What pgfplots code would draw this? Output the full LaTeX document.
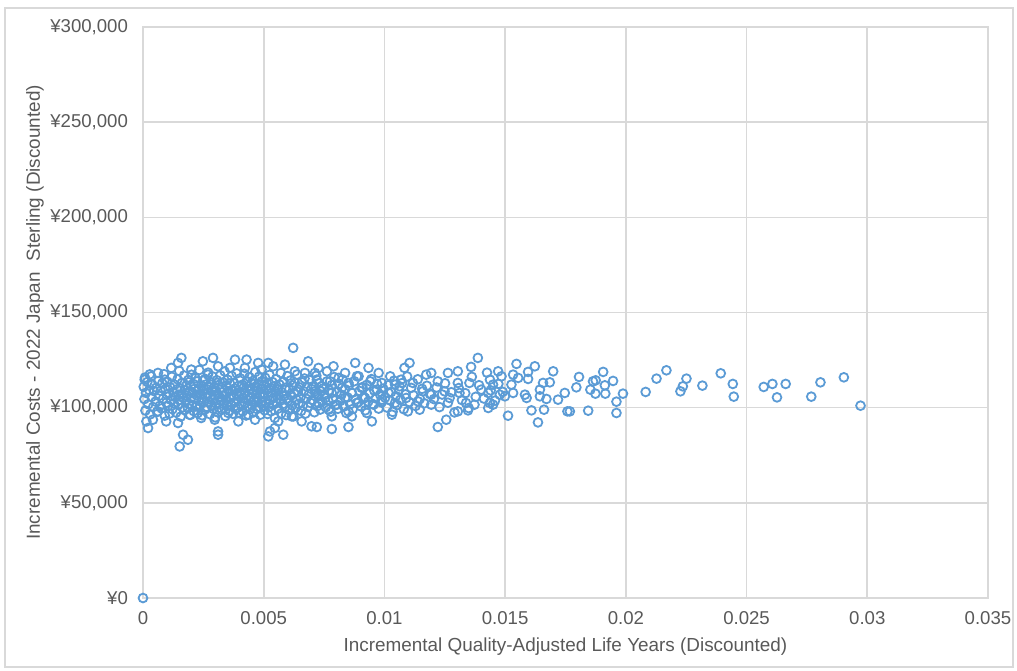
\documentclass[border=0pt]{standalone}
\usepackage{fontspec}
\setmainfont{Liberation Sans}
\usepackage{pgfplots}
\usepackage{pgfplotstable}
\pgfplotsset{compat=1.18}
\definecolor{ptc}{HTML}{5B9BD5}
\definecolor{gridc}{HTML}{D9D9D9}
\definecolor{txt}{HTML}{595959}
\pgfplotstableread{
x y
0 0
0.02168 119630
0.02251 115260
0.02236 111210
0.02226 108580
0.02317 111580
0.02393 118050
0.02443 112470
0.02447 105790
0.02571 110890
0.02607 112470
0.02626 105420
0.02662 112470
0.02768 105790
0.02806 113310
0.02903 115940
0.02972 101050
0.01806 116150
0.01795 110680
0.01906 118790
0.01864 113840
0.01875 114370
0.01853 109470
0.01913 111730
0.01947 114050
0.01874 107370
0.01915 107370
0.01988 107370
0.01961 103150
0.01961 97210
0.01844 98420
0.01768 98050
0.02082 108260
0.02127 115260
0.01547 123000
0.01623 121740
0.01699 119100
0.01471 119100
0.01485 116470
0.01533 117360
0.01595 118790
0.01554 115630
0.01437 114730
0.01450 112100
0.01526 112100
0.01595 115100
0.01657 113000
0.01685 113310
0.01430 107740
0.01478 106840
0.01499 105950
0.01533 107740
0.01582 106840
0.01589 105100
0.01644 109470
0.01644 105950
0.01671 104580
0.01719 104210
0.01747 107740
0.01437 102470
0.01450 101580
0.01430 99840
0.01512 95790
0.01609 98580
0.01661 98940
0.01758 98050
0.01636 92260
0.01387 126150
0.01359 121420
0.01304 119100
0.01263 118260
0.01104 123520
0.01083 120890
0.01194 118260
0.01173 117360
0.01221 113840
0.01304 113000
0.01352 113000
0.01118 113000
0.01159 108580
0.01249 108580
0.01311 107740
0.01401 109470
0.01194 106840
0.01270 105100
0.01338 102470
0.01373 101580
0.01090 105100
0.01139 103310
0.01097 98050
0.01146 98940
0.01194 101580
0.01304 98050
0.01346 98580
0.01221 89840
0.01256 93680
0.01063 111210
0.01069 114730
0.00879 123520
0.00934 120890
0.00789 121740
0.00727 120890
0.00762 119100
0.00837 118260
0.00976 118260
0.01024 116470
0.00893 116470
0.00810 115630
0.00720 114730
0.00775 113840
0.00851 113000
0.00941 113840
0.00989 113000
0.01044 112100
0.00741 111210
0.00824 110370
0.00906 110370
0.00968 109470
0.00713 108580
0.00782 107740
0.00865 107740
0.01017 107740
0.00755 105100
0.00837 105100
0.00920 105100
0.00989 104210
0.00727 102470
0.00803 101580
0.00886 102470
0.00955 101580
0.01044 102470
0.00769 98940
0.00851 98050
0.00927 97210
0.00865 95420
0.00782 95420
0.00720 89840
0.00782 88790
0.00851 89840
0.00948 92790
0.01031 96310
0.00622 131420
0.00684 124360
0.00381 125260
0.00429 125260
0.00477 123520
0.00519 123520
0.00539 121740
0.00588 122630
0.00360 120890
0.00422 120890
0.00491 120000
0.00629 119100
0.00671 118260
0.00712 118260
0.00519 84890
0.00581 85790
0.00526 87520
0.00546 89310
0.00395 92790
0.00464 93680
0.00560 92790
0.00657 92790
0.00698 90210
0.00353 97210
0.00436 96310
0.00616 95420
0.00159 126150
0.00145 123520
0.00248 124360
0.00290 126150
0.00311 121740
0.00117 120890
0.00200 120000
0.00062 118260
0.00269 117360
0.00007 114730
0.00034 116470
0.00090 114730
0.00166 85790
0.00186 83150
0.00152 79630
0.00311 85790
0.00311 87520
0.00021 89310
0.00014 92790
0.00041 93680
0.00096 92790
0.00145 91940
0.00241 94580
0.00297 93680
0.00062 98050
0.00193 96310
0.00003 111000
0.00006 104500
0.00010 98500
0.00012 107800
0.00018 113500
0.00022 101800
0.00026 109200
0.00030 96500
0.00035 105600
0.00038 112200
0.00042 100300
0.00046 108700
0.00008 115800
0.00028 117500
0.00052 103200
0.00055 110500
0.00058 97800
0.00063 114000
0.00066 106200
0.00070 101000
0.00073 108900
0.00077 99600
0.00080 112800
0.00083 104700
0.00087 117600
0.00090 95800
0.00093 109800
0.00097 102600
0.00099 106900
0.00101 113600
0.00104 100800
0.00107 107400
0.00110 96900
0.00113 110700
0.00116 104100
0.00119 116200
0.00122 99200
0.00125 108100
0.00128 102300
0.00131 112100
0.00134 105500
0.00137 97400
0.00140 109600
0.00143 114900
0.00146 101700
0.00148 106800
0.00150 119300
0.00151 103900
0.00154 110200
0.00156 95300
0.00159 107100
0.00162 113100
0.00164 100200
0.00167 105300
0.00170 116900
0.00172 98700
0.00175 109100
0.00178 103300
0.00180 111800
0.00183 106300
0.00186 99800
0.00188 114600
0.00191 102000
0.00193 108400
0.00196 96200
0.00198 111300
0.00199 105000
0.00201 117300
0.00203 101400
0.00205 107900
0.00208 112500
0.00210 98200
0.00212 104800
0.00215 110000
0.00217 115500
0.00219 100600
0.00222 106500
0.00224 113800
0.00226 97100
0.00229 109400
0.00231 103600
0.00233 119800
0.00236 101100
0.00238 107200
0.00241 111500
0.00243 104300
0.00245 96000
0.00247 108800
0.00249 114200
0.00251 102900
0.00253 109700
0.00256 99000
0.00258 115100
0.00260 105800
0.00263 112300
0.00265 100400
0.00267 107600
0.00270 118400
0.00272 103000
0.00274 110800
0.00277 96600
0.00279 106000
0.00281 113400
0.00284 101300
0.00286 108500
0.00288 116400
0.00291 99400
0.00293 104600
0.00295 111000
0.00297 106600
0.00299 94900
0.00301 109000
0.00303 102200
0.00306 114400
0.00308 97700
0.00310 107000
0.00313 111900
0.00315 100000
0.00317 105200
0.00320 117000
0.00322 103500
0.00324 110400
0.00327 98900
0.00329 108200
0.00331 113300
0.00334 101900
0.00336 106400
0.00338 119000
0.00341 95600
0.00343 104000
0.00345 111600
0.00347 107700
0.00349 100900
0.00351 114700
0.00353 103100
0.00356 108600
0.00358 98400
0.00360 112700
0.00363 105700
0.00365 101500
0.00367 116700
0.00370 109300
0.00372 96800
0.00374 106100
0.00377 113000
0.00379 102700
0.00381 110100
0.00384 99700
0.00386 107300
0.00388 118000
0.00391 104400
0.00393 100100
0.00395 111400
0.00397 105900
0.00399 97300
0.00401 108300
0.00403 115400
0.00406 101600
0.00408 106700
0.00410 112000
0.00413 98000
0.00415 104900
0.00417 110600
0.00420 117800
0.00422 102400
0.00424 108000
0.00427 95900
0.00429 113700
0.00431 100700
0.00434 106300
0.00436 111100
0.00438 103800
0.00441 116000
0.00443 99100
0.00445 109500
0.00447 105100
0.00449 112900
0.00451 101200
0.00453 107500
0.00456 114100
0.00458 97500
0.00460 104200
0.00463 110900
0.00465 118700
0.00467 102800
0.00470 108900
0.00472 99300
0.00474 105400
0.00477 112400
0.00479 100500
0.00481 116300
0.00484 106900
0.00486 96300
0.00488 109900
0.00491 103400
0.00493 113900
0.00495 107100
0.00497 101000
0.00499 111700
0.00501 105600
0.00504 98600
0.00506 115700
0.00509 102100
0.00511 109200
0.00514 112600
0.00516 96700
0.00519 106200
0.00521 100300
0.00524 117200
0.00526 104000
0.00529 110300
0.00531 98100
0.00534 107800
0.00536 113500
0.00539 101600
0.00541 105000
0.00544 111200
0.00546 94600
0.00549 108700
0.00551 115000
0.00554 102500
0.00557 109600
0.00560 99500
0.00562 106600
0.00565 112200
0.00568 104500
0.00571 118200
0.00573 97000
0.00576 108100
0.00579 101900
0.00582 113600
0.00584 106000
0.00587 100000
0.00590 110500
0.00593 96100
0.00595 104800
0.00598 116600
0.00602 103700
0.00605 109400
0.00608 98800
0.00611 114300
0.00614 106400
0.00617 101200
0.00620 111700
0.00623 95400
0.00626 107600
0.00629 113100
0.00632 99900
0.00635 104300
0.00638 117400
0.00641 108300
0.00644 102000
0.00647 110700
0.00652 105300
0.00655 98300
0.00659 113300
0.00662 101100
0.00666 108600
0.00669 115300
0.00673 96900
0.00676 104700
0.00680 111000
0.00683 100400
0.00687 107100
0.00690 114500
0.00694 102500
0.00698 109800
0.00702 104100
0.00706 111300
0.00710 97600
0.00714 107400
0.00718 116800
0.00722 100800
0.00726 105900
0.00730 112900
0.00734 99000
0.00738 108500
0.00742 103300
0.00747 110200
0.00752 106600
0.00757 100200
0.00762 113800
0.00767 103800
0.00772 109100
0.00777 97900
0.00782 111900
0.00787 104600
0.00792 116100
0.00797 101400
0.00802 108000
0.00807 99400
0.00812 112500
0.00817 103500
0.00822 106800
0.00827 114800
0.00832 100600
0.00837 109700
0.00842 97200
0.00847 105400
0.00853 111600
0.00858 101800
0.00864 107900
0.00869 99300
0.00875 113900
0.00881 104300
0.00886 116500
0.00892 102900
0.00897 108800
0.00903 100700
0.00909 110800
0.00915 105500
0.00921 98600
0.00927 112000
0.00933 103200
0.00939 107500
0.00946 115000
0.00952 101900
0.00958 109000
0.00964 104900
0.00970 112400
0.00976 99500
0.00982 106900
0.00988 102700
0.00995 110000
0.01003 105300
0.01010 100100
0.01016 111800
0.01022 103900
0.01028 108300
0.01034 97800
0.01040 114200
0.01047 106100
0.01053 101400
0.01060 109300
0.01066 104200
0.01073 112900
0.01080 99200
0.01087 107000
0.01094 116400
0.01103 103000
0.01111 110400
0.01120 106500
0.01129 100900
0.01138 114900
0.01147 104700
0.01156 109900
0.01165 102300
0.01176 111500
0.01188 107300
0.01205 104500
0.01216 110600
0.01228 100300
0.01239 106900
0.01251 112800
0.01263 102600
0.01277 108100
0.01290 97500
0.01308 110300
0.01321 104000
0.01335 107600
0.01349 99800
0.01362 116200
0.01378 105700
0.01392 111800
0.01412 104800
0.01425 118400
0.01440 109100
0.01458 103700
0.01472 112500
0.01490 108300
}\pts
\begin{document}
\begin{tikzpicture}
\useasboundingbox (-71.5pt,-36pt) rectangle (437pt,299pt);
\draw[gridc, line width=0.6pt] (-69pt,-34.5pt) rectangle (435pt,295pt);
\begin{axis}[
  at={(0,0)}, anchor=south west, scale only axis,
  width=422.5pt, height=285.5pt,
  xmin=0, xmax=0.035, ymin=0, ymax=300000,
  scaled ticks=false,
  xtick={0,0.005,0.01,0.015,0.02,0.025,0.03,0.035},
  xticklabels={0,0.005,0.01,0.015,0.02,0.025,0.03,0.035},
  ytick={0,50000,100000,150000,200000,250000,300000},
  yticklabels={¥0,{¥50,000},{¥100,000},{¥150,000},{¥200,000},{¥250,000},{¥300,000}},
  grid=major,
  major grid style={gridc, line width=0.8pt},
  axis line style={gridc, line width=0.8pt},
  major tick length=0pt,
  tick label style={font=\fontsize{9.3}{10}\selectfont, text=txt},
  xticklabel style={yshift=-3pt},
  yticklabel style={xshift=-4pt},
  xlabel={Incremental Quality-Adjusted Life Years (Discounted)},
  ylabel={Incremental Costs - 2022 Japan \ Sterling (Discounted)},
  label style={font=\fontsize{9.45}{10}\selectfont, text=txt},
  xlabel style={at={(axis description cs:0.5,-0.0858)}, anchor=center},
  ylabel style={at={(axis description cs:-0.1278,0.5)}, anchor=center},
  clip=false,
]
\addplot[only marks, mark=o, mark size=2.2pt, mark options={draw=ptc, line width=0.9pt}] table[x=x,y=y] {\pts};
\end{axis}
\end{tikzpicture}
\end{document}
